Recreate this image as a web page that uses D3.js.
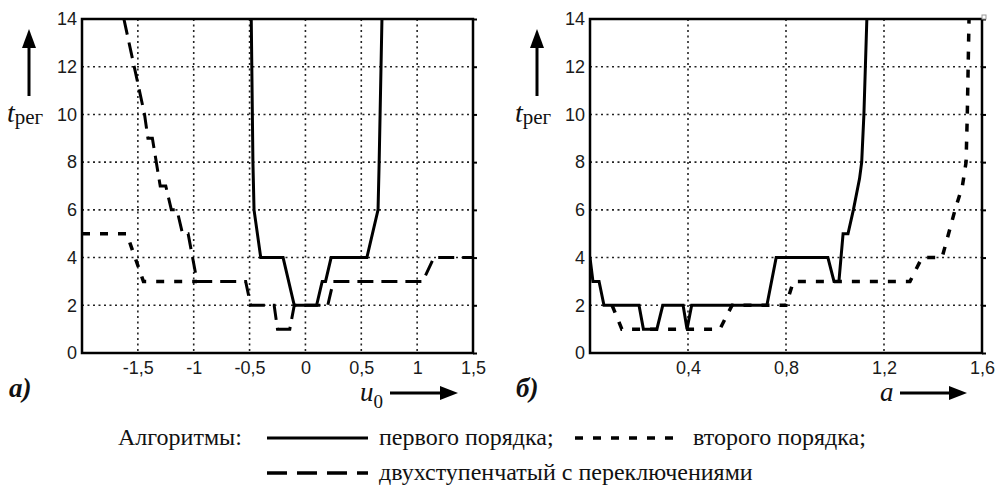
<!DOCTYPE html>
<html>
<head>
<meta charset="utf-8">
<script src="https://cdn.jsdelivr.net/npm/d3@7"></script>
<style>
  body { margin: 0; background: #fff; }
  svg { display: block; }
  .tick text { font-family: "Liberation Sans", Arial, sans-serif; font-size: 18px; fill: #1a1a1a; }
</style>
</head>
<body>
<div id="chart"></div>
<script>
// y axis: t_рег, same for both panels
var yTicks = [0, 2, 4, 6, 8, 10, 12, 14];

// panel a): x = u0
var leftTicks = [-1.5, -1, -0.5, 0, 0.5, 1, 1.5];
var leftFirstU = [-0.485, -0.47, -0.46, -0.40, -0.20, -0.10, 0.10, 0.15, 0.18, 0.23, 0.55, 0.65, 0.66, 0.685];
var leftFirstT = [14, 8, 6, 4, 4, 2, 2, 3, 3, 4, 4, 6, 8, 14];
var leftSecondU = [-2, -1.6, -1.45, -0.97];
var leftSecondT = [5, 5, 3, 3];
var leftTwoU = [-1.625, -1.44, -1.41, -1.37, -1.30, -1.25, -1.20, -1.15, -1.10, -1.05, -0.97, -0.535, -0.49, -0.28, -0.25, -0.14, -0.10, 0.20, 0.25, 1.05, 1.15, 1.5];
var leftTwoT = [14, 10, 9, 9, 7, 7, 6, 6, 5, 5, 3, 3, 2, 2, 1, 1, 2, 2, 3, 3, 4, 4];

// panel б): x = a
var rightTicks = [0.4, 0.8, 1.2, 1.6];
var rightFirstA = [0, 0.012, 0.037, 0.057, 0.2, 0.218, 0.273, 0.297, 0.38, 0.396, 0.415, 0.722, 0.76, 0.971, 0.996, 1.016, 1.033, 1.053, 1.075, 1.10, 1.109, 1.118, 1.13];
var rightFirstT = [4, 3, 3, 2, 2, 1, 1, 2, 2, 1, 2, 2, 4, 4, 3, 3, 5, 5, 6, 7.3, 8, 10, 14];
var rightSecondA = [0.09, 0.13, 0.53, 0.58, 0.80, 0.83, 1.306, 1.355, 1.437, 1.49, 1.52, 1.535, 1.54, 1.547];
var rightSecondT = [2, 1, 1, 2, 2, 3, 3, 4, 4, 6, 7, 8, 10, 14];

var legendTitle = "Алгоритмы:";
var legendLabels = ["первого порядка;", "второго порядка;", "двухступенчатый с переключениями"];

var styles = {
  first: { dash: null, width: 3 },
  second: { dash: "8,10", width: 3.5 },
  two: { dash: "16,8", width: 3 }
};

var SERIF = "Liberation Serif, DejaVu Serif, Times New Roman, serif";

var ru = d3.formatLocale({ decimal: ",", thousands: " ", grouping: [3], currency: ["", ""], minus: "-" });
var fmt = ru.format("~g");

var svg = d3.select("#chart").append("svg").attr("width", 1000).attr("height", 490);

var defs = svg.append("defs");

function zip(xs, ys) { return xs.map(function(d, i) { return [d, ys[i]]; }); }

function panel(opts) {
  var x = d3.scaleLinear().domain(opts.domain).range([opts.left, opts.right]);
  var y = d3.scaleLinear().domain([0, 14]).range([353, 19]);
  var g = svg.append("g");

  defs.append("clipPath").attr("id", opts.id)
    .append("rect").attr("x", opts.left).attr("y", 19)
    .attr("width", opts.right - opts.left).attr("height", 334);

  // grid
  g.selectAll(".vg").data(opts.ticks.filter(function(d) { return d < opts.domain[1]; }))
    .enter().append("line")
    .attr("x1", function(d) { return x(d); }).attr("x2", function(d) { return x(d); })
    .attr("y1", 19).attr("y2", 353)
    .attr("stroke", "#222").attr("stroke-width", 1.6).attr("stroke-dasharray", "2,3.5");
  g.selectAll(".hg").data(yTicks.filter(function(d) { return d > 0 && d < 14; }))
    .enter().append("line")
    .attr("y1", function(d) { return y(d); }).attr("y2", function(d) { return y(d); })
    .attr("x1", opts.left).attr("x2", opts.right)
    .attr("stroke", "#222").attr("stroke-width", 1.6).attr("stroke-dasharray", "2,3.5");

  // axes with labels
  g.append("g").attr("transform", "translate(0,353)")
    .call(d3.axisBottom(x).tickValues(opts.ticks).tickSize(0).tickPadding(8).tickFormat(fmt))
    .call(function(s) { s.select(".domain").remove(); });
  g.append("g").attr("transform", "translate(" + opts.left + ",0)")
    .call(d3.axisLeft(y).tickValues(yTicks).tickSize(0).tickPadding(5))
    .call(function(s) { s.select(".domain").remove(); });

  // inner ticks on right edge
  g.append("g").attr("transform", "translate(" + opts.right + ",0)")
    .call(d3.axisLeft(y).tickValues(yTicks).tickSize(-4).tickFormat(""))
    .call(function(s) { s.select(".domain").remove(); })
    .selectAll("line").attr("stroke", "#000").attr("stroke-width", 2);

  // series
  var line = d3.line().x(function(d) { return x(d[0]); }).y(function(d) { return y(d[1]); });
  var plot = g.append("g").attr("clip-path", "url(#" + opts.id + ")");
  opts.series.forEach(function(s) {
    plot.append("path").datum(zip(s.xs, s.ys))
      .attr("d", line).attr("fill", "none").attr("stroke", "#000")
      .attr("stroke-width", s.style.width)
      .attr("stroke-dasharray", s.style.dash)
      .attr("stroke-linejoin", "miter");
  });

  // frame
  g.append("rect").attr("x", opts.left).attr("y", 19)
    .attr("width", opts.right - opts.left).attr("height", 334)
    .attr("fill", "none").attr("stroke", "#000").attr("stroke-width", 2.5);

  // y label with arrow
  var ax = opts.left - 53;
  g.append("line").attr("x1", ax).attr("x2", ax).attr("y1", 96).attr("y2", 46)
    .attr("stroke", "#000").attr("stroke-width", 3);
  g.append("path").attr("d", "M" + (ax - 7) + ",48 L" + ax + ",29 L" + (ax + 7) + ",48 Z").attr("fill", "#000");
  var yl = g.append("text").attr("font-family", SERIF).attr("fill", "#111")
    .attr("x", opts.left - 75).attr("y", 122);
  yl.append("tspan").attr("font-style", "italic").attr("font-size", 28).text("t");
  yl.append("tspan").attr("font-size", 21).attr("dy", 2).text("рег");

  // x label with arrow
  var xl = g.append("text").attr("font-family", SERIF).attr("fill", "#111")
    .attr("x", opts.xLabelX).attr("y", 401);
  xl.append("tspan").attr("font-style", "italic").attr("font-size", 27).text(opts.xName);
  if (opts.xSub) xl.append("tspan").attr("font-size", 19).attr("dy", 7).text(opts.xSub);
  g.append("line").attr("x1", opts.arrowX0).attr("x2", opts.arrowX1 - 14).attr("y1", 393).attr("y2", 393)
    .attr("stroke", "#000").attr("stroke-width", 3);
  g.append("path").attr("d", "M" + (opts.arrowX1 - 18) + ",386 L" + opts.arrowX1 + ",393 L" + (opts.arrowX1 - 18) + ",400 Z").attr("fill", "#000");

  // panel letter
  g.append("text").attr("font-family", SERIF).attr("fill", "#111")
    .attr("x", opts.letterX).attr("y", 397)
    .attr("font-size", 27).attr("font-weight", "bold").attr("font-style", "italic").text(opts.letter);
}

panel({
  id: "clipA", domain: [-2, 1.5], left: 82, right: 473, ticks: leftTicks,
  series: [
    { xs: leftFirstU, ys: leftFirstT, style: styles.first },
    { xs: leftSecondU, ys: leftSecondT, style: styles.second },
    { xs: leftTwoU, ys: leftTwoT, style: styles.two }
  ],
  xName: "u", xSub: "0", xLabelX: 360, arrowX0: 390, arrowX1: 458, letter: "а)", letterX: 9
});

panel({
  id: "clipB", domain: [0, 1.6], left: 590, right: 982, ticks: rightTicks,
  series: [
    { xs: rightFirstA, ys: rightFirstT, style: styles.first },
    { xs: rightSecondA, ys: rightSecondT, style: styles.second }
  ],
  xName: "a", xSub: null, xLabelX: 880, arrowX0: 900, arrowX1: 967, letter: "б)", letterX: 516
});

// small marker at the top-right corner
svg.append("rect").attr("x", 982).attr("y", 15).attr("width", 4).attr("height", 4)
  .attr("fill", "#fff").attr("stroke", "#999").attr("stroke-width", 1);

// legend
var lg = svg.append("g").attr("font-family", SERIF).attr("fill", "#111").attr("font-size", 24);
lg.append("text").attr("x", 118).attr("y", 445).text(legendTitle);
var legendItems = [
  { style: styles.first, x: 267, x2: 368, y: 438, tx: 379, label: legendLabels[0] },
  { style: styles.second, x: 575, x2: 680, y: 438, tx: 693, label: legendLabels[1] },
  { style: styles.two, x: 267, x2: 368, y: 473, tx: 379, label: legendLabels[2] }
];
legendItems.forEach(function(it) {
  lg.append("line").attr("x1", it.x).attr("x2", it.x2).attr("y1", it.y).attr("y2", it.y)
    .attr("stroke", "#000").attr("stroke-width", it.style === styles.first ? 3 : 3.5)
    .attr("stroke-dasharray", it.style === styles.two ? "20,10" : it.style.dash);
  lg.append("text").attr("x", it.tx).attr("y", it.y + 7).text(it.label);
});
</script>
</body>
</html>
